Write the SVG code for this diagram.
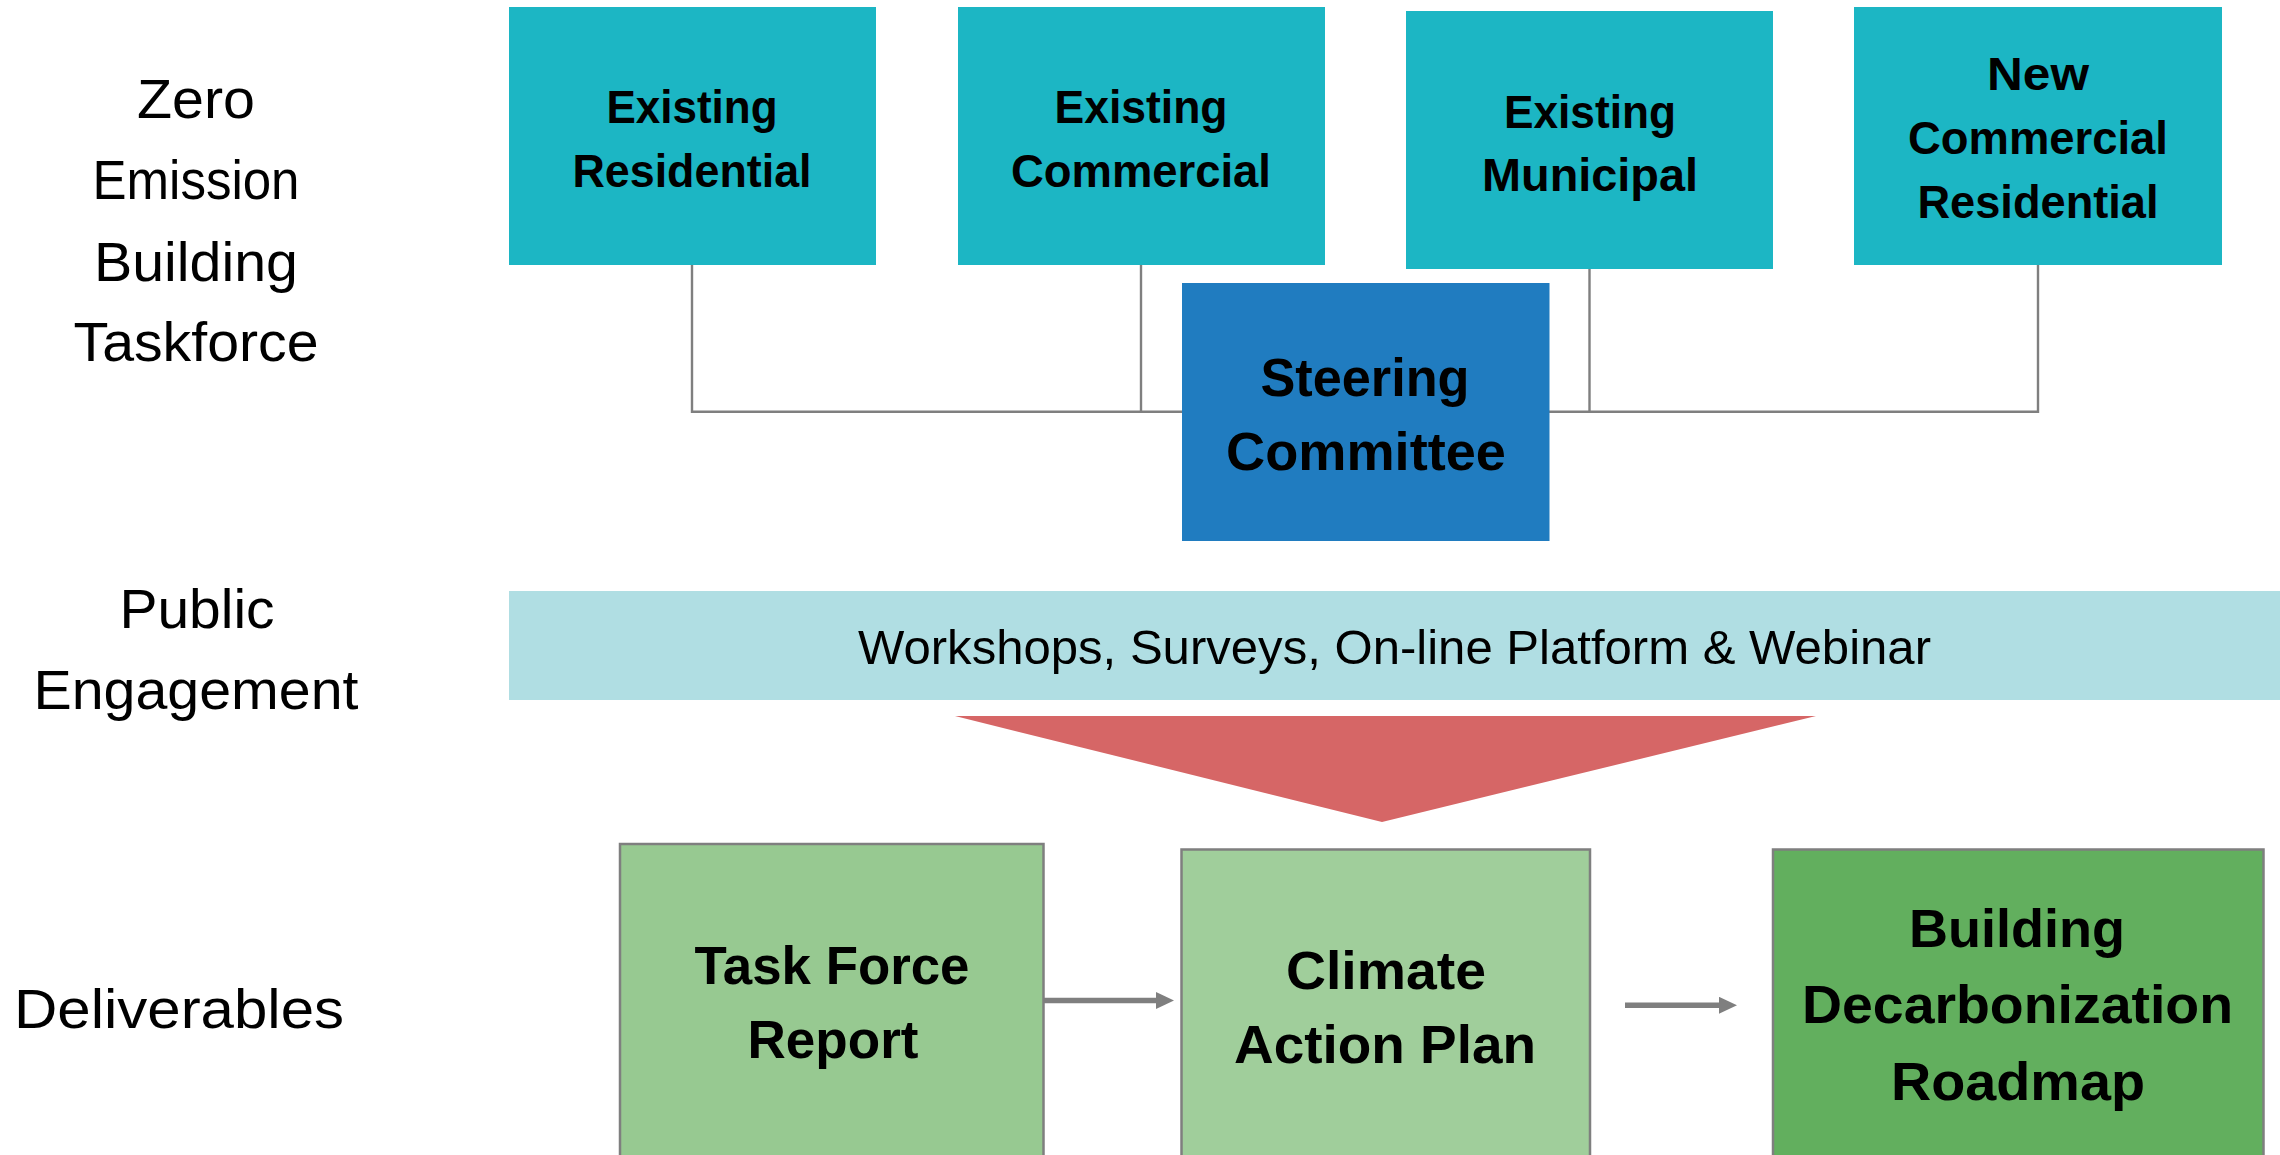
<svg xmlns="http://www.w3.org/2000/svg" width="2280" height="1155" viewBox="0 0 2280 1155">
<style>
.lbl{font-family:"Liberation Sans",Arial,sans-serif;font-size:56px;fill:#000;text-anchor:middle}
.nt{font-family:"Liberation Sans",Arial,sans-serif;font-weight:bold;font-size:46px;fill:#000;text-anchor:middle}
.nt2{font-family:"Liberation Sans",Arial,sans-serif;font-weight:bold;font-size:54px;fill:#000;text-anchor:middle}
.bar{font-family:"Liberation Sans",Arial,sans-serif;font-size:49px;fill:#000;text-anchor:middle}
.teal{fill:#1CB6C4}
.steer{fill:#207CC0}
.conn{fill:none;stroke:#7F7F7F;stroke-width:2.4}
.arr{fill:none;stroke:#7F7F7F;stroke-width:5.5}
.gbox{stroke:#7F7F7F;stroke-width:2.5}
</style>
<defs>
<marker id="head" viewBox="0 0 18 17" markerWidth="18" markerHeight="17" markerUnits="userSpaceOnUse" refX="0" refY="8.5" orient="auto">
<path d="M0,0 L18,8.5 L0,17 z" fill="#7F7F7F"/>
</marker>
</defs>
<rect width="2280" height="1155" fill="#fff"/>

<g id="labels">
<text class="lbl" x="196" y="118" textLength="118" lengthAdjust="spacingAndGlyphs">Zero</text>
<text class="lbl" x="196" y="199" textLength="207" lengthAdjust="spacingAndGlyphs">Emission</text>
<text class="lbl" x="196" y="281" textLength="204" lengthAdjust="spacingAndGlyphs">Building</text>
<text class="lbl" x="196" y="361" textLength="245" lengthAdjust="spacingAndGlyphs">Taskforce</text>
<text class="lbl" x="197" y="628" textLength="155" lengthAdjust="spacingAndGlyphs">Public</text>
<text class="lbl" x="196" y="709" textLength="325" lengthAdjust="spacingAndGlyphs">Engagement</text>
<text class="lbl" x="179" y="1028" textLength="330" lengthAdjust="spacingAndGlyphs">Deliverables</text>
</g>

<g id="connectors">
<path class="conn" d="M692,265 V411.7 H2038 V265"/>
<path class="conn" d="M1141,265 V411.7"/>
<path class="conn" d="M1589.5,269 V411.7"/>
<line class="arr" x1="1043" y1="1000.5" x2="1156" y2="1000.5" marker-end="url(#head)"/>
<line class="arr" x1="1625" y1="1005.3" x2="1719" y2="1005.3" marker-end="url(#head)"/>
</g>

<g id="existing-residential">
<rect class="teal" x="509" y="7" width="367" height="258"/>
<text class="nt" x="692" y="123" textLength="171" lengthAdjust="spacingAndGlyphs">Existing</text>
<text class="nt" x="692" y="187" textLength="239" lengthAdjust="spacingAndGlyphs">Residential</text>
</g>

<g id="existing-commercial">
<rect class="teal" x="958" y="7" width="367" height="258"/>
<text class="nt" x="1141" y="123" textLength="173" lengthAdjust="spacingAndGlyphs">Existing</text>
<text class="nt" x="1141" y="187" textLength="260" lengthAdjust="spacingAndGlyphs">Commercial</text>
</g>

<g id="existing-municipal">
<rect class="teal" x="1406" y="11" width="367" height="258"/>
<text class="nt" x="1590" y="127.6" textLength="172" lengthAdjust="spacingAndGlyphs">Existing</text>
<text class="nt" x="1590" y="190.5" textLength="216" lengthAdjust="spacingAndGlyphs">Municipal</text>
</g>

<g id="new-commercial-residential">
<rect class="teal" x="1854" y="7" width="368" height="258"/>
<text class="nt" x="2038" y="90" textLength="102" lengthAdjust="spacingAndGlyphs">New</text>
<text class="nt" x="2038" y="153.5" textLength="260" lengthAdjust="spacingAndGlyphs">Commercial</text>
<text class="nt" x="2038" y="218" textLength="241" lengthAdjust="spacingAndGlyphs">Residential</text>
</g>

<g id="steering-committee">
<rect class="steer" x="1182" y="283" width="367.5" height="258"/>
<text class="nt2" x="1365" y="396" textLength="209" lengthAdjust="spacingAndGlyphs">Steering</text>
<text class="nt2" x="1366" y="470" textLength="280" lengthAdjust="spacingAndGlyphs">Committee</text>
</g>

<g id="public-engagement">
<rect x="509" y="591" width="1771" height="109" fill="#B0DEE3"/>
<text class="bar" x="1394.5" y="664" textLength="1073" lengthAdjust="spacingAndGlyphs">Workshops, Surveys, On-line Platform &amp; Webinar</text>
</g>

<g id="funnel">
<polygon points="955,716 1816,716 1382,822" fill="#D66666"/>
</g>

<g id="task-force-report">
<rect class="gbox" x="620" y="844" width="423.5" height="320" fill="#97C991"/>
<text class="nt2" x="832" y="984" textLength="275" lengthAdjust="spacingAndGlyphs">Task Force</text>
<text class="nt2" x="833" y="1058" textLength="171" lengthAdjust="spacingAndGlyphs">Report</text>
</g>

<g id="climate-action-plan">
<rect class="gbox" x="1181.5" y="849.5" width="408.5" height="320" fill="#A0CE9B"/>
<text class="nt2" x="1386" y="989" textLength="200" lengthAdjust="spacingAndGlyphs">Climate</text>
<text class="nt2" x="1385" y="1063" textLength="302" lengthAdjust="spacingAndGlyphs">Action Plan</text>
</g>

<g id="building-decarbonization-roadmap">
<rect class="gbox" x="1773" y="849.5" width="490.5" height="320" fill="#62AF5E"/>
<text class="nt2" x="2017" y="947" textLength="216" lengthAdjust="spacingAndGlyphs">Building</text>
<text class="nt2" x="2017.5" y="1022.6" textLength="431" lengthAdjust="spacingAndGlyphs">Decarbonization</text>
<text class="nt2" x="2018" y="1100" textLength="254" lengthAdjust="spacingAndGlyphs">Roadmap</text>
</g>
</svg>
